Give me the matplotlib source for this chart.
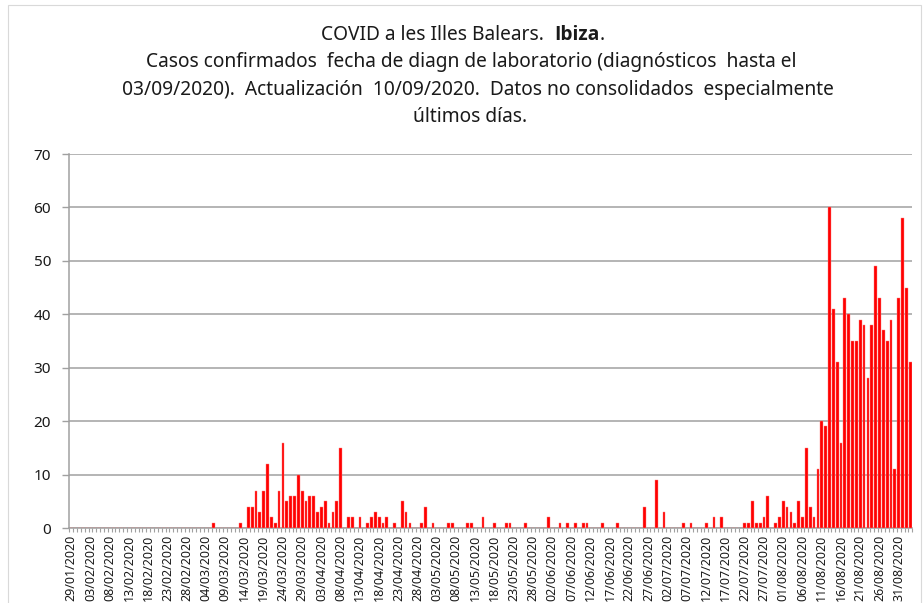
import matplotlib
matplotlib.use("Agg")
import matplotlib.pyplot as plt
from matplotlib.patches import Rectangle
from matplotlib import font_manager
import numpy as np
import pandas as pd

plt.rcParams['font.family'] = ['Noto Sans', 'DejaVu Sans']

# ---- data (daily confirmed cases, Ibiza) ----
start_date = "2020-01-29"
end_date = "2020-09-03"
jan = [0, 0, 0]
feb = [0] * 29
mar = [0, 0, 0, 0, 0, 1, 0, 0, 0, 0, 0, 0, 1, 0, 4, 4, 7, 3, 7, 12, 2, 1, 7, 16, 5, 6, 6, 10, 7, 5, 6]
apr = [6, 3, 4, 5, 1, 3, 5, 15, 0, 2, 2, 0, 2, 0, 1, 2, 3, 2, 1, 2, 0, 1, 0, 5, 3, 1, 0, 0, 1, 4]
may = [0, 1, 0, 0, 0, 1, 1, 0, 0, 0, 1, 1, 0, 0, 2, 0, 0, 1, 0, 0, 1, 1, 0, 0, 0, 1, 0, 0, 0, 0, 0]
jun = [2, 0, 0, 1, 0, 1, 0, 1, 0, 1, 1, 0, 0, 0, 1, 0, 0, 0, 1, 0, 0, 0, 0, 0, 0, 4, 0, 0, 9, 0]
jul = [3, 0, 0, 0, 0, 1, 0, 1, 0, 0, 0, 1, 0, 2, 0, 2, 0, 0, 0, 0, 0, 1, 1, 5, 1, 1, 2, 6, 0, 1, 2]
aug = [5, 4, 3, 1, 5, 2, 15, 4, 2, 11, 20, 19, 60, 41, 31, 16, 43, 40, 35, 35, 39, 38, 28, 38, 49, 43, 37, 35, 39, 11, 43]
sep = [58, 45, 31]
cases = jan + feb + mar + apr + may + jun + jul + aug + sep

dates = pd.date_range(start_date, end_date, freq="D")
date_labels = [d.strftime("%d/%m/%Y") for d in dates]
label_step = 5
y_ticks = [0, 10, 20, 30, 40, 50, 60, 70]

title_line1 = [("COVID a les Illes Balears.  ", "normal"), ("Ibiza", "bold"), (".", "normal")]
title_line2 = "Casos confirmados  fecha de diagn de laboratorio (diagnósticos  hasta el"
title_line3 = "03/09/2020).  Actualización  10/09/2020.  Datos no consolidados  especialmente"
title_line4 = "últimos días."

# pick a family that really has a bold face
bold_family = None
for fam in ["Noto Sans", "Open Sans", "Lato", "Roboto", "Liberation Sans", "DejaVu Sans"]:
    for f in font_manager.fontManager.ttflist:
        if f.name == fam and (isinstance(f.weight, int) and f.weight >= 600 or f.weight in ("bold", "heavy", "black", "semibold", "demibold")):
            bold_family = fam
            break
    if bold_family:
        break
if bold_family is None:
    bold_family = "DejaVu Sans"

# ---- figure ----
W, H = 924, 603
fig = plt.figure(figsize=(W / 100, H / 100), dpi=100)
fig.patch.set_facecolor("white")

left_px, right_px, top_px, bot_px = 69.3, 912.2, 154, 528
ax = fig.add_axes([left_px / W, 1 - bot_px / H, (right_px - left_px) / W, (bot_px - top_px) / H])

x = np.arange(len(cases))
ax.bar(x, cases, width=0.72, color="#ff0000", edgecolor="#ff8080", linewidth=0.3, zorder=3)

ax.set_xlim(-0.5, len(cases) - 0.5)
ax.set_ylim(0, 70)
ax.set_yticks(y_ticks)
ax.set_yticklabels([str(v) for v in y_ticks], fontsize=11, color="#1a1a1a")
ax.grid(axis="y", color="#a0a0a0", linewidth=1.1, zorder=0)
ax.set_axisbelow(True)

tick_pos = x[::label_step]
ax.set_xticks(tick_pos)
ax.set_xticklabels([date_labels[i] for i in tick_pos], rotation=90, fontsize=9, color="#1a1a1a",
                   ha="center", va="top")
ax.set_xticks(np.arange(-0.5, len(cases), 1), minor=True)
ax.tick_params(axis="x", which="major", length=0, pad=5)
ax.tick_params(axis="x", which="minor", length=3, color="#a0a0a0", width=0.8)
ax.tick_params(axis="y", length=5, color="#a0a0a0", width=1.0, pad=8)

for s in ["top", "right"]:
    ax.spines[s].set_visible(False)
ax.spines["left"].set_color("#a0a0a0")
ax.spines["bottom"].set_color("#a0a0a0")
ax.spines["left"].set_linewidth(1.1)
ax.spines["bottom"].set_linewidth(1.1)

# ---- title ----
title_fs = 13.8
fig.canvas.draw()
renderer = fig.canvas.get_renderer()
texts = []
for s, w in title_line1:
    fam = [bold_family, "DejaVu Sans"] if w == "bold" else ["Noto Sans", "DejaVu Sans"]
    t = fig.text(0, 1 - 35 / H, s, fontsize=title_fs, fontweight=w, family=fam,
                 ha="left", va="center", color="#1a1a1a")
    texts.append(t)
widths = [t.get_window_extent(renderer).width for t in texts]
total = sum(widths)
cx = 463
xpos = cx - total / 2
for t, wd in zip(texts, widths):
    t.set_x(xpos / W)
    xpos += wd

fig.text(471 / W, 1 - 62 / H, title_line2, fontsize=title_fs, ha="center", va="center", color="#1a1a1a")
fig.text(478 / W, 1 - 90 / H, title_line3, fontsize=title_fs, ha="center", va="center", color="#1a1a1a")
fig.text(470 / W, 1 - 117 / H, title_line4, fontsize=title_fs, ha="center", va="center", color="#1a1a1a")

# chart border
fig.patches.append(Rectangle((8 / W, -0.1), (921 - 8) / W, 1.1 - 5 / H, transform=fig.transFigure,
                             fill=False, edgecolor="#d9d9d9", linewidth=0.8))

fig.savefig("out.png", dpi=100)
